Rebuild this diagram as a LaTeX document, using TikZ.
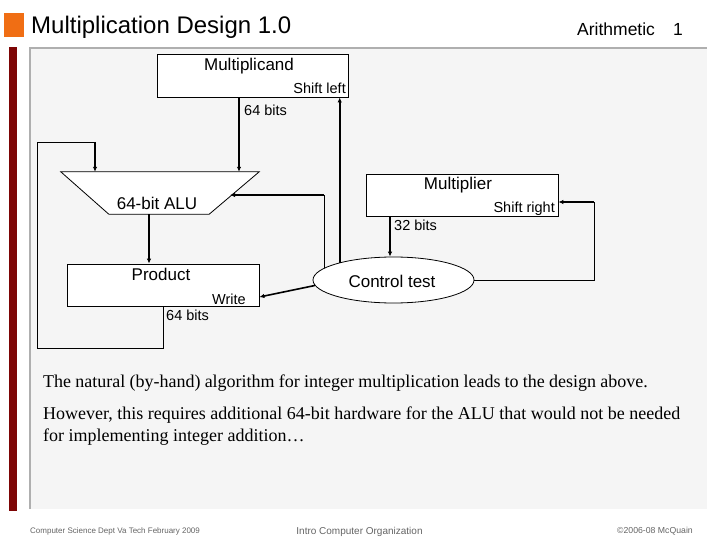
\documentclass[tikz,border=0pt]{standalone}
\usepackage{fontspec}
\setmainfont{Liberation Serif}
\setsansfont{Liberation Sans}
\usetikzlibrary{positioning,arrows.meta,shapes.geometric}
\definecolor{slideorange}{RGB}{240,110,20}
\definecolor{slidered}{RGB}{125,5,5}
\definecolor{panelgray}{RGB}{245,245,245}
\definecolor{rulegray}{RGB}{175,175,175}
\definecolor{footgray}{RGB}{100,100,100}

\begin{document}
\begin{tikzpicture}
  [x=1pt,y=-1pt,every node/.style={inner sep=0pt,font=\sffamily},
   box/.style={draw,fill=white,line width=.8pt},
   lbl/.style={anchor=base,font=\sffamily\fontsize{17}{17}\selectfont},
   small/.style={anchor=base,font=\sffamily\fontsize{14.5}{14.5}\selectfont},
   wire/.style={line width=.8pt},
   arr/.style={line width=1.6pt,-{Latex[length=5pt,width=4.5pt]}}]

  \useasboundingbox (0,0) rectangle (720,540);
  \fill[slideorange] (4,13) rectangle (24,37);
  \fill[slidered] (9,47) rectangle (17,511);
  \fill[panelgray] (30,48) rectangle (707,509);
  \draw[rulegray,line width=2pt] (30,509) -- (30,48) -- (707,48);

  \node[anchor=base west,font=\sffamily\fontsize{24}{24}\selectfont] (title) at (31,34) {Multiplication Design 1.0};
  \node[anchor=base west,font=\sffamily\fontsize{17.5}{17.5}\selectfont] (topic) at (577,36) {Arithmetic};
  \node[anchor=base west,font=\sffamily\fontsize{17.5}{17.5}\selectfont] (pgno) at (673,36) {1};

  \node[box,minimum width=191pt,minimum height=43pt] (mcand) at (252.5,75.5) {};
  \node[box,minimum width=192pt,minimum height=42pt] (mplier) at (462,195) {};
  \node[box,minimum width=192pt,minimum height=42pt] (prod) at (163,285) {};
  \node[box,ellipse,minimum width=161pt,minimum height=46pt] (ctrl) at (393.5,280) {};
  \node[minimum width=198pt,minimum height=42pt] (alu) at (160,193) {};
  \draw[box] (alu.north west) -- (alu.north east) -- ([xshift=-50pt]alu.south east)
    -- ([xshift=48pt]alu.south west) -- cycle;

  \node[lbl] (mcandT) at (249,71) {Multiplicand};
  \node[small,anchor=base east] (shl) at (346,94) {Shift left};
  \node[small,anchor=base west] (bitsA) at (244,116) {64 bits};
  \node[lbl] (aluT) at (157,210) {64-bit ALU};
  \node[lbl] (mplierT) at (458,190) {Multiplier};
  \node[small,anchor=base east] (shr) at (555,212) {Shift right};
  \node[small,anchor=base west] (bitsB) at (394,230) {32 bits};
  \node[lbl] (prodT) at (161,280) {Product};
  \node[small,anchor=base east] (wr) at (246,304) {Write};
  \node[small,anchor=base west] (bitsC) at (166,320) {64 bits};
  \node[lbl] (ctrlT) at (392,287) {Control test};

\foreach \from/\s/\to in {mcand/-13.5/alu,alu/-11/prod,mplier/-72/ctrl}
    \draw[arr] ([xshift=\s pt]\from.south) -- ([xshift=\s pt]\from.south |- \to.north);

  \draw[arr] (ctrl.162) -- (ctrl.162 |- mcand.south);
  \draw[arr] (ctrl.184) -- ([yshift=-12pt]prod.east);

  \coordinate (aluR) at (230,195);
  \draw[wire] (ctrl.170) -- (ctrl.170 |- aluR) coordinate (cA);
  \draw[arr] (cA) -- (aluR);

  \coordinate (mR) at (594,202);
  \draw[wire] (ctrl.east) -| (mR);
  \draw[arr] (mR) -- (mR -| mplier.east);

  \coordinate (lpA) at (37,348);
  \coordinate (lpB) at (37,142);
  \draw[wire] (prod.south) -- (prod.south |- lpA) -- (lpA) -- (lpB)
    -- ([xshift=-65pt]alu.north |- lpB) coordinate (lpC);
  \draw[arr] (lpC) -- ([xshift=-65pt]alu.north);

  \node[anchor=base west,font=\rmfamily\fontsize{18}{22}\selectfont] (para1) at (43,387)
    {\spaceskip=4.2pt\relax The natural (by-hand) algorithm for integer multiplication leads to the design above.};
  \node[anchor=base west,font=\rmfamily\fontsize{18}{22}\selectfont] (para2a) at (43,419)
    {However, this requires additional 64-bit hardware for the ALU that would not be needed};
  \node[anchor=base west,font=\rmfamily\fontsize{18}{22}\selectfont] (para2b) at (43,441)
    {for implementing integer addition…};

  \node[anchor=base west,text=footgray,font=\sffamily\fontsize{8}{8}\selectfont] (footL) at (30,533)
    {Computer Science Dept Va Tech February 2009};
  \node[anchor=base,text=footgray,font=\sffamily\fontsize{10}{10}\selectfont] (footC) at (359.5,534)
    {Intro Computer Organization};
  \node[anchor=base east,text=footgray,font=\sffamily\fontsize{8.7}{8.7}\selectfont] (footR) at (693,533)
    {©2006-08 McQuain};

\end{tikzpicture}
\end{document}
